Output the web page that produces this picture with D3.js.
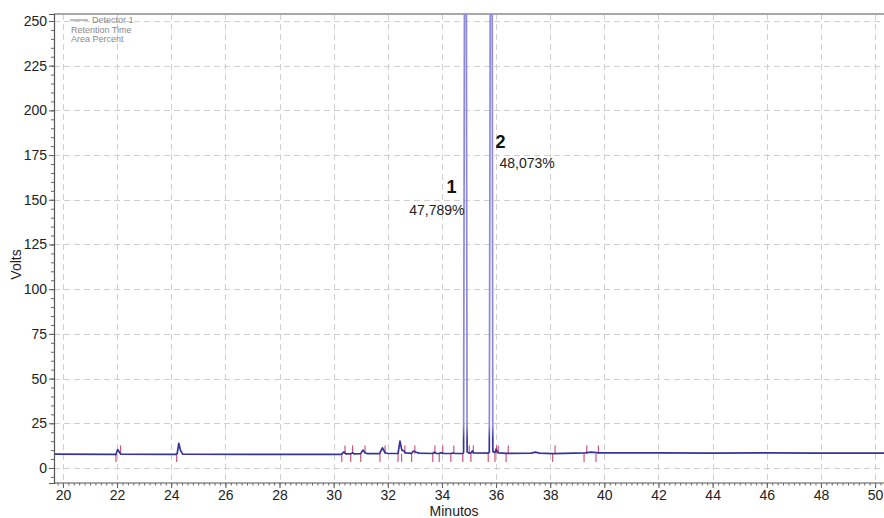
<!DOCTYPE html>
<html>
<head>
<meta charset="utf-8">
<script src="https://cdn.jsdelivr.net/npm/d3@7"></script>
<style>
  html, body { margin: 0; padding: 0; background: #fff; }
  svg { display: block; font-family: "Liberation Sans", Arial, sans-serif; }
</style>
</head>
<body>
<svg id="chart" width="884" height="518"></svg>
<script>
// Chromatogram trace: retention time (min) and detector signal (V)
const traceTime = [
  19.67, 21.90, 21.96, 22.02, 22.07, 22.13, 24.15, 24.22, 24.28, 24.34, 24.42,
  27.00, 30.25, 30.30, 30.38, 30.45, 30.65, 30.70, 30.75, 31.00, 31.08, 31.16,
  31.25, 31.70, 31.80, 31.90, 32.00, 32.38, 32.45, 32.52, 32.60, 32.65, 32.88,
  32.95, 33.05, 33.15, 33.66, 33.72, 33.80, 33.90, 34.00, 34.05, 34.33, 34.40,
  34.48, 34.77, 34.80, 34.87, 34.93, 35.01, 35.07, 35.12, 35.16, 35.71, 35.75,
  35.83, 35.88, 35.96, 36.00, 36.05, 36.10, 36.37, 36.45, 37.30, 37.45, 37.60,
  38.10, 39.30, 39.50, 39.80, 42.00, 44.00, 46.00, 48.00, 50.33
];
const traceVolts = [
  7.7, 7.6, 7.5, 10.3, 9.2, 7.8, 7.6, 8.0, 13.8, 10.0, 7.7,
  7.6, 7.6, 7.8, 9.0, 7.9, 8.0, 8.6, 7.9, 8.0, 10.0, 8.5,
  8.0, 8.0, 11.3, 8.5, 8.1, 8.2, 15.0, 10.0, 9.5, 8.4, 8.2,
  9.5, 8.8, 8.3, 8.1, 8.8, 8.1, 8.2, 8.6, 8.1, 8.1, 8.4,
  8.1, 8.1, 8.6, 560, 9.0, 8.3, 8.3, 9.5, 8.4, 8.3, 8.8,
  575, 9.2, 8.5, 10.5, 9.0, 8.5, 8.2, 8.2, 8.3, 8.9, 8.3,
  8.0, 8.4, 8.9, 8.4, 8.5, 8.3, 8.5, 8.3, 8.3
];

// Integration events: time and whether the mark points down (start) or up (end)
const eventTime = [
  21.96, 22.13, 24.20, 30.30, 30.42, 30.63, 30.70, 31.00, 31.16, 31.71, 31.90,
  32.38, 32.51, 32.63, 32.88, 33.00, 33.66, 33.74, 33.90, 34.03, 34.33, 34.44,
  34.77, 35.01, 35.07, 35.16, 35.71, 35.96, 36.02, 36.08, 36.37, 36.45, 38.09,
  38.18, 39.25, 39.35, 39.69, 39.78
];
const eventDir = [
  -1, 1, -1, -1, 1, -1, 1, -1, 1, -1, 1,
  -1, -1, 1, -1, 1, -1, 1, -1, 1, -1, 1,
  -1, 1, -1, 1, -1, -1, 1, 1, -1, 1, -1,
  1, -1, 1, -1, 1
];
const eventBaseline = 8.0;
const eventSize = 4.6;

// Peak annotations
const peakNumber = ["1", "2"];
const peakTime = [34.87, 35.83];
const peakPercent = ["47,789%", "48,073%"];
const peakLabelVolts = [162, 184];

const xTicks = d3.range(20, 51, 2);
const yTicks = d3.range(0, 251, 25);
const legendLines = ["Detector 1", "Retention Time", "Area Percent"];

const svg = d3.select("#chart");
const plotLeft = 54, plotRight = 884, plotTop = 14, plotBottom = 483;

const x = d3.scaleLinear().domain([19.67, 50.33]).range([plotLeft, plotRight]);
const y = d3.scaleLinear().domain([-8.4, 253.9]).range([plotBottom, plotTop]);

const defs = svg.append("defs");
defs.append("clipPath").attr("id", "plotClip")
  .append("rect").attr("x", plotLeft).attr("y", plotTop)
  .attr("width", plotRight - plotLeft).attr("height", plotBottom - plotTop);

// Trace colour: dark at the baseline, lighter on the tall peaks
const grad = defs.append("linearGradient").attr("id", "traceGrad")
  .attr("gradientUnits", "userSpaceOnUse")
  .attr("x1", 0).attr("x2", 0)
  .attr("y1", y(16)).attr("y2", y(24));
grad.append("stop").attr("offset", 0).attr("stop-color", "#34349a");
grad.append("stop").attr("offset", 1).attr("stop-color", "#8a8ad6");

// Gridlines
const grid = svg.append("g").attr("stroke", "#cfcfcf").attr("stroke-width", 1)
  .attr("stroke-dasharray", "6,4").attr("fill", "none");
grid.selectAll("line.vx").data(xTicks).join("line")
  .attr("x1", d => Math.round(x(d)) + 0.5).attr("x2", d => Math.round(x(d)) + 0.5)
  .attr("y1", plotTop).attr("y2", plotBottom);
grid.selectAll("line.hy").data(yTicks).join("line")
  .attr("x1", plotLeft).attr("x2", plotRight)
  .attr("y1", d => Math.round(y(d)) + 0.5).attr("y2", d => Math.round(y(d)) + 0.5);

// Top frame line
svg.append("line").attr("x1", plotLeft).attr("x2", plotRight).attr("y1", plotTop).attr("y2", plotTop)
  .attr("stroke", "#a8a8a8").attr("stroke-width", 2);

const plot = svg.append("g").attr("clip-path", "url(#plotClip)");

// Integration event marks
plot.append("g").attr("stroke", "#d2557c").attr("stroke-width", 1.2)
  .selectAll("line").data(eventTime).join("line")
  .attr("x1", d => x(d)).attr("x2", d => x(d))
  .attr("y1", y(eventBaseline))
  .attr("y2", (d, i) => y(eventBaseline + eventDir[i] * eventSize));

// Detector trace
const line = d3.line().x(d => x(d[0])).y(d => y(d[1]));
plot.append("path")
  .datum(traceTime.map((t, i) => [t, traceVolts[i]]))
  .attr("d", line)
  .attr("fill", "none")
  .attr("stroke", "url(#traceGrad)")
  .attr("stroke-width", 1.7)
  .attr("stroke-linejoin", "round");

// Axes
const xAxis = svg.append("g").attr("transform", `translate(0,${plotBottom})`)
  .call(d3.axisBottom(x).tickValues(xTicks).tickSize(5).tickPadding(2).tickFormat(d3.format("d")));
const yAxis = svg.append("g").attr("transform", `translate(${plotLeft},0)`)
  .call(d3.axisLeft(y).tickValues(yTicks).tickSize(5).tickPadding(2).tickFormat(d3.format("d")));
[xAxis, yAxis].forEach(g => {
  g.select(".domain").attr("stroke", "#555").attr("stroke-width", 1.2);
  g.selectAll(".tick line").attr("stroke", "#555");
  g.selectAll(".tick text").attr("fill", "#222").style("font-size", "14px")
    .style("font-family", '"Liberation Sans", Arial, sans-serif');
});
xAxis.select(".domain").attr("d", `M${plotLeft},0H${plotRight}`);

// Minor ticks
svg.append("g").attr("transform", `translate(0,${plotBottom})`)
  .call(d3.axisBottom(x).tickValues(d3.range(19.8, 50.3, 0.2)).tickSize(2.5).tickFormat(""))
  .call(g => g.select(".domain").remove())
  .selectAll(".tick line").attr("stroke", "#666");
svg.append("g").attr("transform", `translate(${plotLeft},0)`)
  .call(d3.axisLeft(y).tickValues(d3.range(-5, 252, 5)).tickSize(3).tickFormat(""))
  .call(g => g.select(".domain").remove())
  .selectAll(".tick line").attr("stroke", "#666");

// Axis titles
svg.append("text").attr("x", x(34.45)).attr("y", 516)
  .attr("text-anchor", "middle").attr("fill", "#222").style("font-size", "14px")
  .text("Minutos");
svg.append("text").attr("transform", `translate(21,${(plotTop + plotBottom) / 2 + 16}) rotate(-90)`)
  .attr("text-anchor", "middle").attr("fill", "#222").style("font-size", "14px")
  .text("Volts");

// Peak labels: first to the left of its peak, second to the right
const labels = svg.append("g").attr("fill", "#111");
peakNumber.forEach((n, i) => {
  const px = x(peakTime[i]);
  const py = y(peakLabelVolts[i]);
  labels.append("text")
    .attr("x", i === 0 ? px - 9 : px + 4)
    .attr("y", i === 0 ? py + 15 : py + 9)
    .attr("text-anchor", i === 0 ? "end" : "start")
    .style("font-size", "18px").style("font-weight", "bold")
    .text(n);
  labels.append("text")
    .attr("x", i === 0 ? px - 1 : px + 8)
    .attr("y", i === 0 ? py + 37 : py + 29)
    .attr("text-anchor", i === 0 ? "end" : "start")
    .style("font-size", "14px").attr("fill", "#222")
    .text(peakPercent[i]);
});

// Legend
const legend = svg.append("g").attr("fill", "#8a8a8a").style("font-size", "9px");
legend.append("line").attr("x1", 70).attr("x2", 88).attr("y1", 20).attr("y2", 20)
  .attr("stroke", "#7a7a8a").attr("stroke-width", 1);
legend.selectAll("text").data(legendLines).join("text")
  .attr("x", (d, i) => i === 0 ? 92 : 71)
  .attr("y", (d, i) => 23 + i * 9.5)
  .text(d => d);
</script>
</body>
</html>
